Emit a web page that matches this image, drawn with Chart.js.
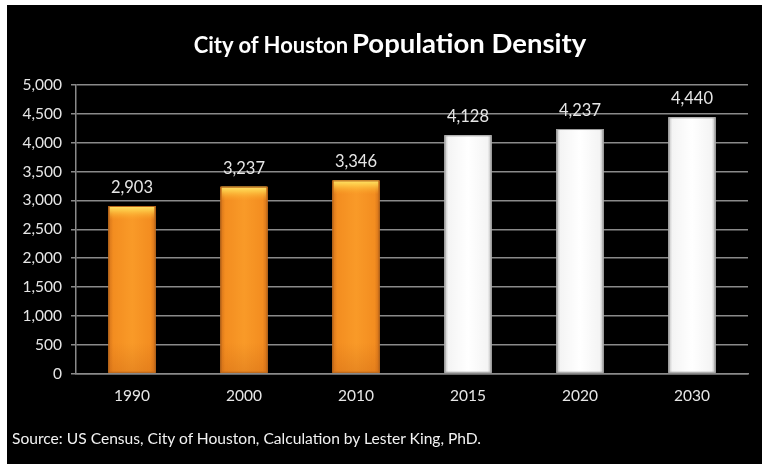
<!DOCTYPE html>
<html>
<head>
<meta charset="utf-8">
<title>City of Houston Population Density</title>
<script src="https://cdn.jsdelivr.net/npm/chart.js@4/dist/chart.umd.min.js"></script>
<style>
    html, body { margin: 0; padding: 0; background: #fff; }
    #painel {
        position: absolute; left: 7px; top: 5px;
        width: 755px; height: 459px; background: #000;
        font-family: Lato, "Open Sans", sans-serif; color: #fff;
    }
    #grafico { position: absolute; left: 0; top: 0; }
    #titulo {
        position: absolute; left: 0; top: 21px; width: 766px;
        text-align: center; font-weight: bold; white-space: nowrap;
    }
    #titulo .pequeno { font-size: 22px; }
    #titulo .grande { font-size: 27.5px; }
    #fonte {
        position: absolute; left: 5px; top: 424px;
        font-size: 15.6px; white-space: nowrap; color: #f2f2f2;
    }
</style>
</head>
<body>
<div id="painel">
    <canvas id="grafico" width="755" height="459"></canvas>
    <div id="titulo"><span class="pequeno">City of Houston</span> <span class="grande">Population Density</span></div>
    <div id="fonte">Source: US Census, City of Houston, Calculation by Lester King, PhD.</div>
</div>
<script>
// ===================== DADOS =====================
const anos = ['1990', '2000', '2010', '2015', '2020', '2030'];
const densidade = [2903, 3237, 3346, 4128, 4237, 4440];
const projetado = [false, false, false, true, true, true]; // 2015 em diante = estimativa
const ticksY = [0, 500, 1000, 1500, 2000, 2500, 3000, 3500, 4000, 4500, 5000];

// ===================== CORES =====================
const corLaranja = '#f5921f';
const corBranca = '#ffffff';
const corGrade = '#8a8a8a';
const corTexto = '#e6e6e6';

const formatar = v => v.toLocaleString('en-US');

// sombreamento das barras (bordas escuras + brilho no topo)
const brilhoBarras = {
    id: 'brilhoBarras',
    afterDatasetsDraw(chart) {
        const ctx = chart.ctx;
        const meta = chart.getDatasetMeta(0);
        meta.data.forEach((bar, i) => {
            const { x, y, base, width } = bar.getProps(['x', 'y', 'base', 'width'], true);
            const esq = x - width / 2;
            const alt = base - y;
            ctx.save();

            const gh = ctx.createLinearGradient(esq, 0, esq + width, 0);
            if (projetado[i]) {
                gh.addColorStop(0, '#bdbdbd');
                gh.addColorStop(0.08, '#f4f4f4');
                gh.addColorStop(0.5, '#ffffff');
                gh.addColorStop(0.92, '#f4f4f4');
                gh.addColorStop(1, '#b5b5b5');
            } else {
                gh.addColorStop(0, '#d4731a');
                gh.addColorStop(0.1, '#f38d20');
                gh.addColorStop(0.5, '#f99a28');
                gh.addColorStop(0.9, '#f38d20');
                gh.addColorStop(1, '#d0701a');
            }
            ctx.fillStyle = gh;
            ctx.fillRect(esq, y, width, alt);

            if (!projetado[i]) {
                const gv = ctx.createLinearGradient(0, y, 0, y + 14);
                gv.addColorStop(0, 'rgba(255, 236, 110, 0.95)');
                gv.addColorStop(0.35, 'rgba(255, 215, 80, 0.7)');
                gv.addColorStop(1, 'rgba(255, 170, 40, 0)');
                ctx.fillStyle = gv;
                ctx.fillRect(esq + 1, y, width - 2, 14);

                const gb = ctx.createLinearGradient(0, base - 30, 0, base);
                gb.addColorStop(0, 'rgba(200, 100, 20, 0)');
                gb.addColorStop(1, 'rgba(200, 100, 20, 0.35)');
                ctx.fillStyle = gb;
                ctx.fillRect(esq, base - 30, width, 30);
            }

            ctx.strokeStyle = projetado[i] ? '#9a9a9a' : '#b8661c';
            ctx.lineWidth = 1;
            ctx.strokeRect(esq + 0.5, y + 0.5, width - 1, alt - 1);
            ctx.restore();
        });
    }
};

// rótulos de valor acima das barras
const rotulos = {
    id: 'rotulos',
    afterDatasetsDraw(chart) {
        const ctx = chart.ctx;
        const meta = chart.getDatasetMeta(0);
        ctx.save();
        ctx.font = '16.5px Lato, "Open Sans", sans-serif';
        ctx.fillStyle = corTexto;
        ctx.textAlign = 'center';
        ctx.textBaseline = 'alphabetic';
        meta.data.forEach((bar, i) => {
            ctx.fillText(formatar(densidade[i]), bar.x, bar.y - 13);
        });
        ctx.restore();
    }
};

// ===================== GRÁFICO =====================
new Chart(document.getElementById('grafico'), {
    type: 'bar',
    data: {
        labels: anos,
        datasets: [{
            data: densidade,
            backgroundColor: projetado.map(p => p ? corBranca : corLaranja),
            borderWidth: 0,
            categoryPercentage: 1,
            barPercentage: 0.42
        }]
    },
    options: {
        responsive: false,
        devicePixelRatio: 1,
        animation: false,
        layout: { padding: { top: 80, right: 14, left: 0, bottom: 0 } },
        plugins: {
            legend: { display: false },
            tooltip: { enabled: false },
            title: { display: false }
        },
        scales: {
            x: {
                grid: { display: false },
                border: { display: true, color: corGrade, width: 1.5 },
                ticks: { color: corTexto, font: { family: 'Lato', size: 15.5 }, padding: 5 },
                afterFit: s => { s.height = 90.5; }
            },
            y: {
                min: 0,
                max: 5000,
                afterBuildTicks: s => { s.ticks = ticksY.map(v => ({ value: v })); },
                grid: { color: corGrade, lineWidth: 1.5, tickLength: 5 },
                border: { display: true, color: corGrade, width: 1.5 },
                ticks: {
                    color: corTexto,
                    font: { family: 'Lato', size: 15.5 },
                    padding: 9,
                    callback: v => formatar(v)
                },
                afterFit: s => { s.width = 69; }
            }
        }
    },
    plugins: [brilhoBarras, rotulos]
});
</script>
</body>
</html>
